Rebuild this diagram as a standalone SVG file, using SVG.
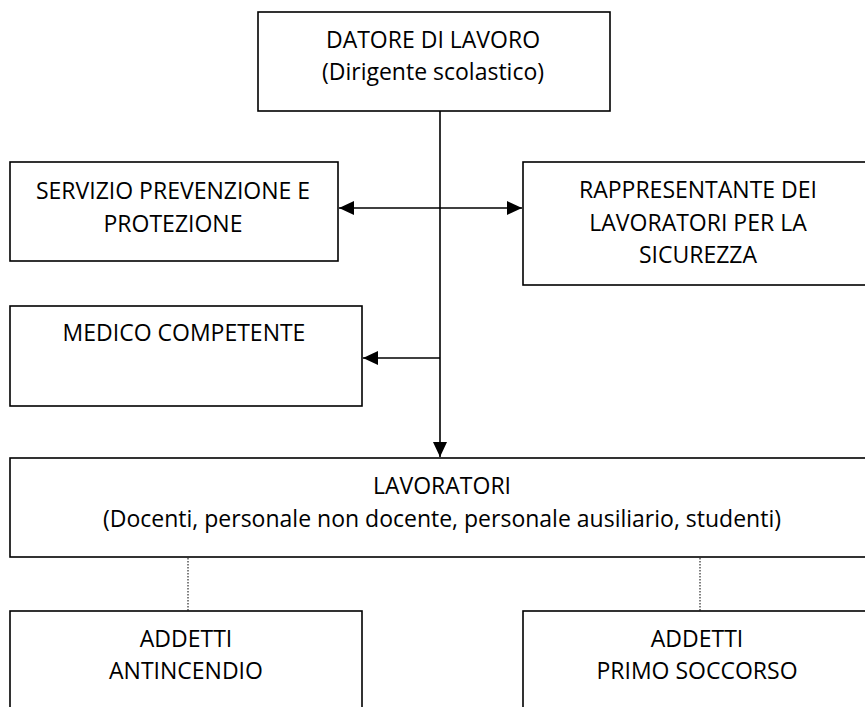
<svg xmlns="http://www.w3.org/2000/svg" width="865" height="707" viewBox="0 0 865 707">
<style>
.box{fill:#fff;stroke:#000;stroke-width:1.6}
.t{font-family:"Open Sans","Liberation Sans",sans-serif;font-size:23px;fill:#000;text-anchor:middle}
.c{stroke:#000;stroke-width:1.6;fill:none}
.d{stroke:#000;stroke-width:1;stroke-dasharray:1.5,1.5;fill:none}
</style>
<defs>
<marker id="ah" markerUnits="userSpaceOnUse" markerWidth="15" markerHeight="14" refX="15" refY="7" orient="auto-start-reverse">
<path d="M0,0 L15,7 L0,14 z" fill="#000"/>
</marker>
</defs>
<rect width="865" height="707" fill="#fff"/>
<g id="connectors">
<line class="c" x1="440" y1="111" x2="440" y2="457" marker-end="url(#ah)"/>
<line class="c" x1="339" y1="208" x2="522" y2="208" marker-start="url(#ah)" marker-end="url(#ah)"/>
<line class="c" x1="440" y1="358" x2="363" y2="358" marker-end="url(#ah)"/>
<line class="d" x1="188" y1="558" x2="188" y2="611"/>
<line class="d" x1="700" y1="558" x2="700" y2="611"/>
</g>
<g id="datore">
<rect class="box" x="258" y="12" width="352" height="99"/>
<text class="t" x="433" y="48">DATORE DI LAVORO</text>
<text class="t" x="433" y="80">(Dirigente scolastico)</text>
</g>
<g id="spp">
<rect class="box" x="10" y="162" width="328" height="99"/>
<text class="t" x="173" y="199">SERVIZIO PREVENZIONE E</text>
<text class="t" x="173" y="232">PROTEZIONE</text>
</g>
<g id="rls">
<rect class="box" x="523" y="162" width="350" height="123"/>
<text class="t" x="698" y="198">RAPPRESENTANTE DEI</text>
<text class="t" x="698" y="231">LAVORATORI PER LA</text>
<text class="t" x="698" y="263">SICUREZZA</text>
</g>
<g id="medico">
<rect class="box" x="10" y="306" width="352" height="100"/>
<text class="t" x="184" y="341">MEDICO COMPETENTE</text>
</g>
<g id="lavoratori">
<rect class="box" x="10" y="458" width="864" height="99"/>
<text class="t" x="442" y="494">LAVORATORI</text>
<text class="t" x="442" y="527">(Docenti, personale non docente, personale ausiliario, studenti)</text>
</g>
<g id="antincendio">
<rect class="box" x="10" y="611" width="352" height="110"/>
<text class="t" x="186" y="647">ADDETTI</text>
<text class="t" x="186" y="679">ANTINCENDIO</text>
</g>
<g id="soccorso">
<rect class="box" x="523" y="611" width="350" height="110"/>
<text class="t" x="697" y="647">ADDETTI</text>
<text class="t" x="697" y="679">PRIMO SOCCORSO</text>
</g>
</svg>
